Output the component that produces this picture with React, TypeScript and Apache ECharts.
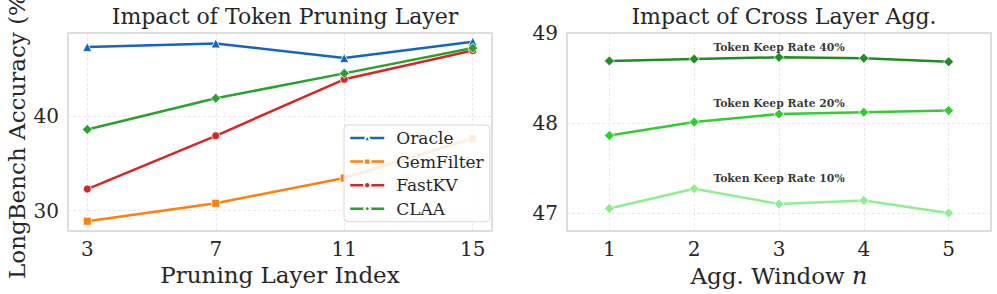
import React, { useEffect, useRef } from "react";
import * as echarts from "echarts";

// Left panel data
const pruningLayers = [3, 7, 11, 15];
const oracle = [47.26, 47.65, 46.1, 47.83];
const gemFilter = [28.88, 30.78, 33.44, 37.62];
const fastKV = [32.28, 37.9, 43.86, 46.9];
const claa = [38.57, 41.86, 44.49, 47.16];
const leftYTicks = [30, 40];
const legendNames = ["Oracle", "GemFilter", "FastKV", "CLAA"];

// Right panel data
const aggWindows = [1, 2, 3, 4, 5];
const keep40 = [48.69, 48.71, 48.73, 48.72, 48.68];
const keep20 = [47.86, 48.01, 48.1, 48.12, 48.14];
const keep10 = [47.05, 47.27, 47.1, 47.14, 47.0];
const rightYTicks = [47, 48, 49];
const annotationLabels = ["Token Keep Rate 40%", "Token Keep Rate 20%", "Token Keep Rate 10%"];
const annotationX = [3, 3, 3];
const annotationY = [48.84, 48.222, 47.378];

const FONT = "DejaVu Serif";
const TXT = "#262626";

const zip = (xs: number[], ys: number[]) => xs.map((x, i) => [x, ys[i]]);

export default function App() {
  const ref = useRef<HTMLDivElement>(null);
  useEffect(() => {
    if (!ref.current) return;
    const chart = echarts.init(ref.current, undefined, { renderer: "svg" });
    const splitLine = { show: true, lineStyle: { color: "#e3e3e3", width: 0.8, type: [3, 2] as any } };
    const axisLabel = { color: TXT, fontFamily: FONT, fontSize: 20 };
    const lineSeries = (name: string, data: number[][], color: string, symbol: string, xi: number, size = 8) => ({
      name,
      type: "line",
      xAxisIndex: xi,
      yAxisIndex: xi,
      data,
      symbol,
      symbolSize: size,
      lineStyle: { color, width: 2.5 },
      itemStyle: { color, borderColor: "#fff", borderWidth: 0.8 },
      z: 3,
    });
    const gridBase = {
      top: 33,
      width: 424,
      height: 198,
      show: true,
      borderColor: "#d4d4d4",
      borderWidth: 1.5,
      backgroundColor: "#fff",
      containLabel: false,
      outerBoundsMode: "none",
    };
    const legendText = { fontFamily: FONT, fontSize: 17, color: TXT, lineHeight: 18, padding: [0, 0, 0, 7] };
    chart.setOption({
      animation: false,
      backgroundColor: "#fff",
      textStyle: { fontFamily: FONT },
      title: [
        {
          text: "Impact of Token Pruning Layer",
          left: 280,
          textAlign: "center",
          top: 0,
          textStyle: { fontFamily: FONT, fontSize: 22, fontWeight: "normal", color: TXT },
        },
        {
          text: "Impact of Cross Layer Agg.",
          left: 779,
          textAlign: "center",
          top: 0,
          textStyle: { fontFamily: FONT, fontSize: 22, fontWeight: "normal", color: TXT },
        },
      ],
      grid: [
        { ...gridBase, left: 68 },
        { ...gridBase, left: 567 },
      ],
      legend: {
        orient: "vertical",
        left: 344,
        top: 125,
        data: legendNames.map((n) => ({ name: n, textStyle: legendText })),
        itemWidth: 34,
        itemHeight: 8,
        itemGap: 5.6,
        padding: [4, 6, 4, 5],
        backgroundColor: "rgba(255,255,255,0.85)",
        borderColor: "#d9d9d9",
        borderWidth: 1,
        borderRadius: 4,
        lineStyle: { width: 2.5 },
        textStyle: legendText,
      },
      xAxis: [
        {
          type: "value",
          gridIndex: 0,
          min: 2.4,
          max: 15.6,
          axisLine: { show: false },
          axisTick: { show: false, customValues: pruningLayers },
          axisLabel: { ...axisLabel, customValues: pruningLayers, margin: 8 },
          splitLine,
          name: "Pruning Layer Index",
          nameLocation: "middle",
          nameGap: 29,
          nameTextStyle: { fontFamily: FONT, fontSize: 23, color: TXT },
        },
        {
          type: "value",
          gridIndex: 1,
          min: 0.5,
          max: 5.5,
          axisLine: { show: false },
          axisTick: { show: false, customValues: aggWindows },
          axisLabel: { ...axisLabel, customValues: aggWindows, margin: 8 },
          splitLine,
          name: "{a|Agg. Window }{i|n}",
          nameLocation: "middle",
          nameGap: 29,
          nameTextStyle: {
            fontFamily: FONT,
            fontSize: 23,
            color: TXT,
            rich: {
              a: { fontFamily: FONT, fontSize: 23, color: TXT },
              i: { fontFamily: FONT, fontSize: 24, color: TXT, fontStyle: "italic" },
            },
          },
        },
      ],
      yAxis: [
        {
          type: "value",
          gridIndex: 0,
          min: 27.85,
          max: 48.75,
          axisLine: { show: false },
          axisTick: { show: false, customValues: leftYTicks },
          axisLabel: { ...axisLabel, customValues: leftYTicks, margin: 9 },
          splitLine,
          name: "LongBench Accuracy (%)",
          nameLocation: "middle",
          nameGap: 40,
          nameTextStyle: { fontFamily: FONT, fontSize: 23, color: TXT },
        },
        {
          type: "value",
          gridIndex: 1,
          min: 46.8,
          max: 49,
          axisLine: { show: false },
          axisTick: { show: false, customValues: rightYTicks },
          axisLabel: { ...axisLabel, customValues: rightYTicks, margin: 9 },
          splitLine,
        },
      ],
      series: [
        lineSeries("Oracle", zip(pruningLayers, oracle), "#1565c0", "triangle", 0, 9),
        lineSeries("GemFilter", zip(pruningLayers, gemFilter), "#ff7f0e", "rect", 0, 8),
        lineSeries("FastKV", zip(pruningLayers, fastKV), "#d62728", "circle", 0, 8),
        lineSeries("CLAA", zip(pruningLayers, claa), "#2ca02c", "diamond", 0, 10),
        lineSeries("Keep 40%", zip(aggWindows, keep40), "#228b22", "diamond", 1, 10),
        lineSeries("Keep 20%", zip(aggWindows, keep20), "#32cd32", "diamond", 1, 10),
        lineSeries("Keep 10%", zip(aggWindows, keep10), "#90ee90", "diamond", 1, 10),
        {
          type: "scatter",
          xAxisIndex: 1,
          yAxisIndex: 1,
          symbolSize: 0,
          silent: true,
          data: annotationLabels.map((t, i) => ({ value: [annotationX[i], annotationY[i]], name: t })),
          label: {
            show: true,
            position: "inside",
            formatter: (p: any) => p.name,
            fontFamily: FONT,
            fontSize: 10.8,
            fontWeight: "bold",
            color: "#000",
          },
          z: 5,
        },
      ],
    });
    return () => chart.dispose();
  }, []);
  return <div ref={ref} style={{ position: "fixed", left: 0, top: 0, width: 997, height: 294 }} />;
}
